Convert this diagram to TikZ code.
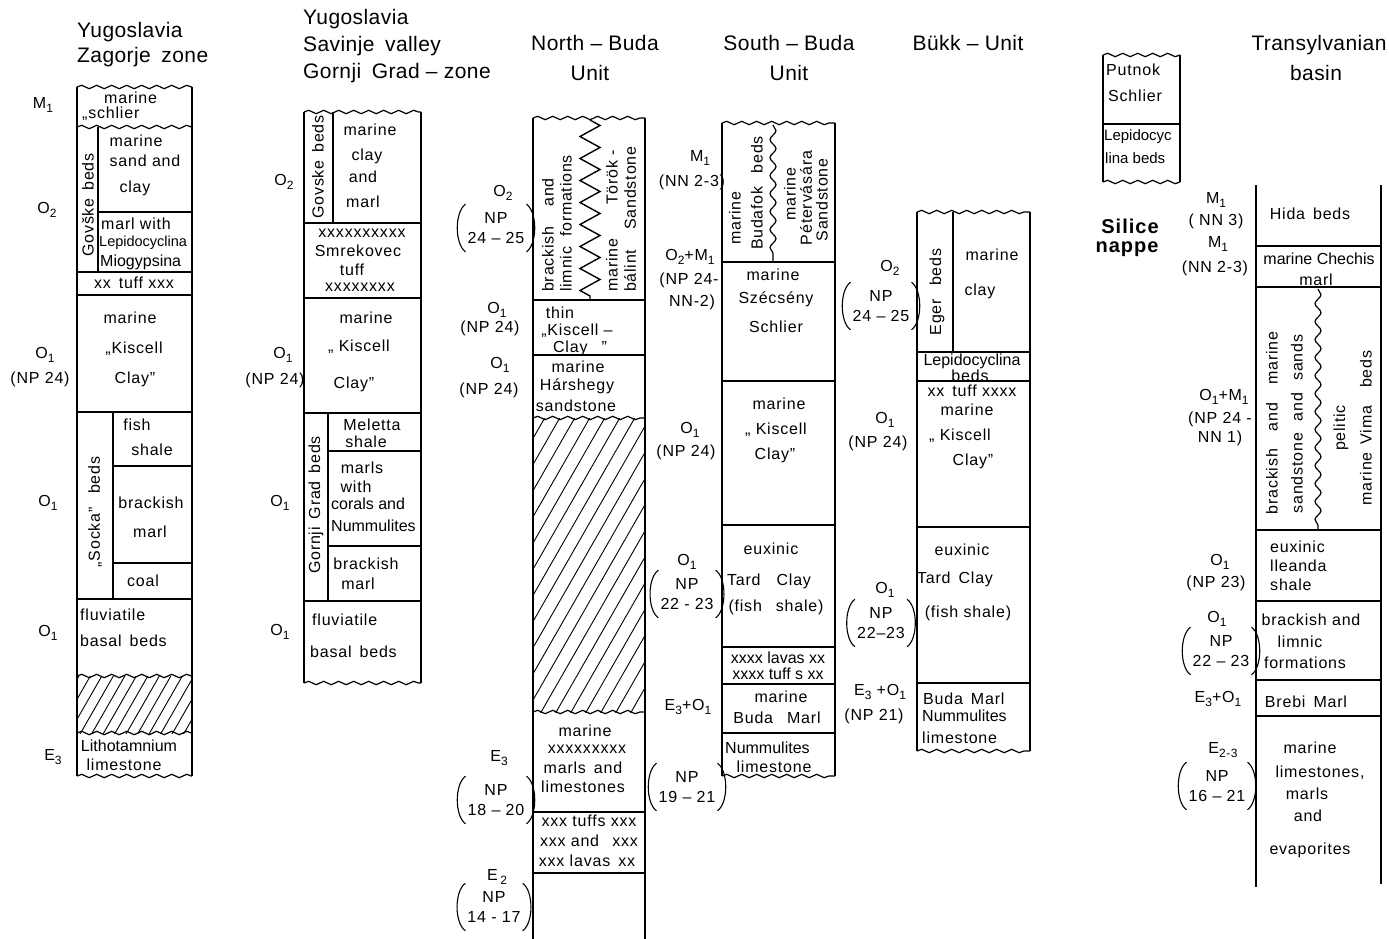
\documentclass[tikz,border=0pt]{standalone}
\usepackage{fontspec}
\setmainfont{Liberation Sans}[LetterSpace=5]
\usetikzlibrary{decorations.pathmorphing,calc}
\newcommand\dn[1]{\raisebox{-4.5pt}{\fontsize{12}{12}\selectfont #1}}
\newcommand\prn[1]{%
 \draw[pl] ($(#1.north west)+(3,-8)$) .. controls ($(#1.west)+(-8,-16)$) and ($(#1.west)+(-8,16)$) .. ($(#1.south west)+(3,8)$);
 \draw[pl] ($(#1.north east)+(-3,-8)$) .. controls ($(#1.east)+(8,-16)$) and ($(#1.east)+(8,16)$) .. ($(#1.south east)+(-3,8)$);}
\begin{document}
\begin{tikzpicture}[x=1pt,y=-1pt,
 box/.style={line width=1.6pt},
 ln/.style={line width=1.2pt},
 pl/.style={line width=1.1pt},
 wv/.style={line width=1.2pt, decorate, decoration={snake, segment length=15pt, amplitude=1.7pt}},
 wvv/.style={line width=1.2pt, decorate, decoration={snake, segment length=18pt, amplitude=3pt}},
 zz/.style={line width=1.4pt, decorate, decoration={zigzag, segment length=22pt, amplitude=10pt}},
 t/.style={inner sep=0pt, font=\fontsize{16}{19}\selectfont},
 tn/.style={inner sep=0pt, font=\fontsize{16}{19}\selectfont\addfontfeature{LetterSpace=0}},
 lb/.style={inner sep=0pt, font=\fontsize{16}{19}\selectfont, align=center},
 np/.style={lb, font=\fontsize{16}{20}\selectfont, inner xsep=5pt},
 ttl/.style={inner sep=0pt, font=\fontsize{21}{24}\selectfont\addfontfeature{LetterSpace=2}},
 rt/.style={t, rotate=90},
 hl/.style={line width=0.9pt}]
\useasboundingbox (0,0) rectangle (1389,939);
\fill[white] (0,0) rectangle (1389,939);

%% ---------------- Column 1 : Zagorje
\node[ttl,anchor=west] (t1a) at (77,32) {Yugoslavia};
\node[ttl,anchor=west] (t1b) at (77,57) {Zagorje\enspace zone};
\draw[box] (77,87) -- (77,776) (192,87) -- (192,776);
\draw[wv] (77,87) -- (192,87);
\draw[wv] (77,127) -- (192,127);
\draw[ln] (98,127) -- (98,272) (98,212) -- (192,212);
\draw[ln] (77,272) -- (192,272) (77,295) -- (192,295) (77,412) -- (192,412);
\draw[ln] (113,412) -- (113,599) (113,466) -- (192,466) (113,563) -- (192,563);
\draw[ln] (77,599) -- (192,599);
\begin{scope}
\clip (77,676) rectangle (192,733);
\foreach \i in {0,...,15} \draw[hl] ({45+\i*11.5},735) -- ++(35,-61);
\end{scope}
\draw[wv] (77,676) -- (192,676);
\draw[wv] (77,733) -- (192,733);
\draw[wv] (77,776) -- (192,776);
\node[t,anchor=west,align=left,font=\fontsize{16}{15}\selectfont] (c1a) at (82,106) {\hspace{22pt}marine\\„schlier};
\node[t] (c1c) at (136,141) {marine};
\node[t] (c1d) at (145,161) {sand and};
\node[t] (c1e) at (135,188) {clay};
\node[rt] (c1f) at (88,205) {Govške\enspace beds};
\node[t,anchor=west] (c1g) at (101,224) {marl with};
\node[tn,anchor=west,font=\fontsize{14.5}{16}\selectfont\addfontfeature{LetterSpace=0}] (c1h) at (99,243) {Lepidocyclina};
\node[tn,anchor=west] (c1i) at (100,262) {Miogypsina};
\node[t] (c1j) at (134,283) {xx\enspace tuff xxx};
\node[t] (c1k) at (130,318) {marine};
\node[t] (c1l) at (134,349) {„Kiscell};
\node[t] (c1m) at (135,379) {Clay"};
\node[rt] (c1n) at (95,512) {„Socka"\enspace\ beds};
\node[t] (c1o) at (137,425) {fish};
\node[t] (c1p) at (152,450) {shale};
\node[t] (c1q) at (151,503) {brackish};
\node[t] (c1r) at (150,532) {marl};
\node[t] (c1s) at (143,581) {coal};
\node[t,anchor=west] (c1t) at (80,615) {fluviatile};
\node[t,anchor=west] (c1u) at (80,641) {basal\enspace beds};
\node[tn] (c1v) at (129,746) {Lithotamnium};
\node[t] (c1w) at (124,765) {limestone};
\node[lb] (l1a) at (43,105) {M\dn1};
\node[lb] (l1b) at (47,210) {O\dn2};
\node[lb] (l1c) at (45,355) {O\dn1};
\node[lb] (l1d) at (40,379) {(NP 24)};
\node[lb] (l1e) at (48,503) {O\dn1};
\node[lb] (l1f) at (48,633) {O\dn1};
\node[lb] (l1g) at (53,757) {E\dn3};

%% ---------------- Column 2 : Savinje
\node[ttl,anchor=west] (t2a) at (303,19) {Yugoslavia};
\node[ttl,anchor=west] (t2b) at (303,46) {Savinje\enspace valley};
\node[ttl,anchor=west] (t2c) at (303,73) {Gornji\enspace Grad – zone};
\draw[box] (304,112) -- (304,683) (421,112) -- (421,683);
\draw[wv] (304,112) -- (421,112);
\draw[ln] (333,112) -- (333,223);
\draw[ln] (304,223) -- (421,223) (304,298) -- (421,298) (304,413) -- (421,413);
\draw[ln] (328,413) -- (328,601) (328,451) -- (421,451) (328,546) -- (421,546);
\draw[ln] (304,601) -- (421,601);
\draw[wv] (304,683) -- (421,683);
\node[rt] (c2a) at (318,167) {Govske\enspace beds};
\node[t] (c2b) at (370,130) {marine};
\node[t] (c2c) at (367,156) {clay};
\node[t] (c2d) at (363,177) {and};
\node[t] (c2e) at (363,202) {marl};
\node[t] (c2f) at (362,233) {xxxxxxxxxx};
\node[t] (c2g) at (358,251) {Smrekovec};
\node[t] (c2h) at (352,270) {tuff};
\node[t] (c2i) at (360,287) {xxxxxxxx};
\node[t] (c2j) at (366,318) {marine};
\node[t] (c2k) at (359,347) {„ Kiscell};
\node[t] (c2l) at (354,384) {Clay"};
\node[rt] (c2m) at (316,505) {Gornji\enspace Grad\enspace beds};
\node[t] (c2n) at (372,425) {Meletta};
\node[t] (c2o) at (366,442) {shale};
\node[t] (c2p) at (362,468) {marls};
\node[t] (c2q) at (356,487) {with};
\node[tn,anchor=west] (c2r) at (331,504) {corals and};
\node[tn,anchor=west] (c2s) at (331,526) {Nummulites};
\node[t] (c2t) at (366,564) {brackish};
\node[t] (c2u) at (358,584) {marl};
\node[t,anchor=west] (c2v) at (312,620) {fluviatile};
\node[t,anchor=west] (c2w) at (310,652) {basal\enspace beds};
\node[lb] (l2a) at (284,182) {O\dn2};
\node[lb] (l2b) at (283,355) {O\dn1};
\node[lb] (l2c) at (275,380) {(NP 24)};
\node[lb] (l2d) at (280,503) {O\dn1};
\node[lb] (l2e) at (280,632) {O\dn1};

%% ---------------- Column 3 : North-Buda
\node[ttl] (t3a) at (595,43) {North – Buda};
\node[ttl] (t3b) at (590,73) {Unit};
\draw[box] (533,118) -- (533,939) (645,118) -- (645,939);
\draw[wv] (533,118) -- (645,118);
\draw[zz] (590,120) -- (590,300);
\draw[ln] (533,300) -- (645,300) (533,355) -- (645,355);
\begin{scope}
\clip (533,418) rectangle (645,712);
\foreach \i in {0,...,24} \draw[hl] ({360+\i*15},714) -- ++(172,-300);
\end{scope}
\draw[wv] (533,418) -- (645,418);
\draw[wv] (533,712) -- (645,712);
\draw[ln] (533,812) -- (645,812) (533,873) -- (645,873);
\node[rt,anchor=west] (c3a) at (548,292) {brackish\hspace{20pt}and};
\node[rt,anchor=west] (c3b) at (566,292) {limnic\hspace{10pt}formations};
\node[rt,anchor=west] (c3c) at (612,292) {marine\hspace{34pt}Török -};
\node[rt,anchor=west] (c3d) at (630,292) {bálint\hspace{20pt}Sandstone};
\node[t] (c3e) at (560,313) {thin};
\node[t] (c3f) at (577,331) {„Kiscell –};
\node[t] (c3g) at (580,348) {Clay\hspace{14pt}"};
\node[t] (c3h) at (578,367) {marine};
\node[t] (c3i) at (577,386) {Hárshegy};
\node[t] (c3j) at (576,406) {sandstone};
\node[t] (c3k) at (585,731) {marine};
\node[t] (c3l) at (587,749) {xxxxxxxxx};
\node[t] (c3m) at (583,768) {marls\enspace and};
\node[t] (c3n) at (583,787) {limestones};
\node[t] (c3o) at (589,821) {xxx tuffs xxx};
\node[t] (c3p) at (589,841) {xxx and\enspace\ xxx};
\node[t] (c3q) at (587,861) {xxx lavas\enspace xx};
\node[lb] (l3a) at (503,193) {O\dn2};
\node[np] (l3b) at (496,228) {NP\\24 – 25};
\prn{l3b}
\node[lb] (l3c) at (497,310) {O\dn1};
\node[lb] (l3d) at (490,328) {(NP 24)};
\node[lb] (l3e) at (500,365) {O\dn1};
\node[lb] (l3f) at (489,390) {(NP 24)};
\node[lb] (l3g) at (499,758) {E\dn3};
\node[np] (l3h) at (496,800) {NP\\18 – 20};
\prn{l3h}
\node[lb] (l3i) at (497,877) {E\,\dn2};
\node[np] (l3j) at (494,907) {NP\\14 - 17};
\prn{l3j}

%% ---------------- Column 4 : South-Buda
\node[ttl] (t4a) at (789,43) {South – Buda};
\node[ttl] (t4b) at (789,73) {Unit};
\draw[box] (722,123) -- (722,776) (835,123) -- (835,776);
\draw[wv] (722,123) -- (835,123);
\draw[wvv] (773,125) -- (773,262);
\draw[ln] (722,262) -- (835,262) (722,381) -- (835,381) (722,525) -- (835,525);
\draw[ln] (722,647) -- (835,647) (722,684) -- (835,684) (722,733) -- (835,733);
\draw[wv] (722,776) -- (835,776);
\node[rt] (c4a) at (735,218) {marine};
\node[rt] (c4b) at (757,193) {Budafok\enspace\ beds};
\node[rt] (c4c) at (790,194) {marine};
\node[rt] (c4d) at (806,198) {Pétervására};
\node[rt] (c4e) at (822,200) {Sandstone};
\node[t] (c4f) at (773,275) {marine};
\node[t] (c4g) at (776,299) {Szécsény};
\node[t] (c4h) at (776,327) {Schlier};
\node[t] (c4i) at (779,404) {marine};
\node[t] (c4j) at (776,430) {„ Kiscell};
\node[t] (c4k) at (775,455) {Clay"};
\node[t] (c4l) at (771,549) {euxinic};
\node[t] (c4m) at (769,581) {Tard\hspace{16pt}Clay};
\node[t] (c4n) at (776,607) {(fish\hspace{14pt}shale)};
\node[tn] (c4o) at (778,658) {xxxx lavas xx};
\node[tn] (c4p) at (778,674) {xxxx tuff s xx};
\node[t] (c4q) at (781,697) {marine};
\node[t] (c4r) at (777,718) {Buda\hspace{14pt}Marl};
\node[tn,anchor=west] (c4s) at (725,748) {Nummulites};
\node[t] (c4t) at (774,767) {limestone};
\node[lb] (l4a) at (700,158) {M\dn1};
\node[lb] (l4b) at (692,182) {(NN 2-3)};
\node[lb] (l4c) at (690,257) {O\dn2+M\dn1};
\node[lb] (l4d) at (689,280) {(NP 24-};
\node[lb] (l4e) at (692,302) {NN-2)};
\node[lb] (l4f) at (690,430) {O\dn1};
\node[lb] (l4g) at (686,452) {(NP 24)};
\node[lb] (l4h) at (687,562) {O\dn1};
\node[np] (l4i) at (687,594) {NP\\22 - 23};
\prn{l4i}
\node[lb] (l4j) at (688,707) {E\dn3+O\dn1};
\node[np] (l4k) at (687,787) {NP\\19 – 21};
\prn{l4k}

%% ---------------- Column 5 : Bukk
\node[ttl] (t5a) at (968,43) {Bükk – Unit};
\draw[box] (917,212) -- (917,751) (1030,212) -- (1030,751);
\draw[wv] (917,212) -- (1030,212);
\draw[ln] (953,212) -- (953,352);
\draw[ln] (917,352) -- (1030,352) (917,381) -- (1030,381) (917,527) -- (1030,527) (917,683) -- (1030,683);
\draw[wv] (917,751) -- (1030,751);
\node[rt] (c5a) at (937,292) {Eger\enspace\ beds};
\node[t] (c5b) at (992,255) {marine};
\node[t] (c5c) at (980,291) {clay};
\node[tn] (c5d) at (972,361) {Lepidocyclina};
\node[t] (c5e) at (970,376) {beds};
\node[t] (c5f) at (972,391) {xx\enspace tuff xxxx};
\node[t] (c5g) at (967,410) {marine};
\node[t] (c5h) at (960,436) {„ Kiscell};
\node[t] (c5i) at (973,461) {Clay"};
\node[t] (c5j) at (962,550) {euxinic};
\node[t] (c5k) at (955,579) {Tard\enspace Clay};
\node[t] (c5l) at (968,613) {(fish shale)};
\node[t,anchor=west] (c5m) at (923,699) {Buda\enspace Marl};
\node[tn,anchor=west] (c5n) at (922,716) {Nummulites};
\node[t,anchor=west] (c5o) at (922,738) {limestone};
\node[lb] (l5a) at (890,268) {O\dn2};
\node[np] (l5b) at (881,306) {NP\\24 – 25};
\prn{l5b}
\node[lb] (l5c) at (885,420) {O\dn1};
\node[lb] (l5d) at (878,443) {(NP 24)};
\node[lb] (l5e) at (885,590) {O\dn1};
\node[np] (l5f) at (881,623) {NP\\22–23};
\prn{l5f}
\node[lb] (l5g) at (880,692) {E\dn3 +O\dn1};
\node[lb] (l5h) at (874,716) {(NP 21)};

%% ---------------- Putnok / Silice
\draw[box] (1103,55) -- (1103,182) (1180,55) -- (1180,182);
\draw[wv] (1103,55) -- (1180,55);
\draw[ln] (1103,124) -- (1180,124);
\draw[wv] (1103,182) -- (1180,182);
\node[t,anchor=west] (c6a) at (1106,70) {Putnok};
\node[t,anchor=west] (c6b) at (1108,96) {Schlier};
\node[tn,anchor=west,font=\fontsize{15}{16}\selectfont\addfontfeature{LetterSpace=0}] (c6c) at (1104,137) {Lepidocyc};
\node[tn,anchor=west,font=\fontsize{15}{16}\selectfont\addfontfeature{LetterSpace=0}] (c6d) at (1105,158) {lina beds};
\node[ttl,font=\fontsize{20}{24}\bfseries] (c6e) at (1130,226) {Silice};
\node[ttl,font=\fontsize{20}{24}\bfseries] (c6f) at (1127,249) {nappe};

%% ---------------- Column 7 : Transylvanian
\node[ttl] (t7a) at (1319,45) {Transylvanian};
\node[ttl] (t7b) at (1316,73) {basin};
\draw[box] (1256,185) -- (1256,887) (1381,185) -- (1381,884);
\draw[ln] (1256,246) -- (1381,246) (1256,287) -- (1381,287);
\draw[wvv] (1318,289) -- (1318,530);
\draw[ln] (1256,530) -- (1381,530) (1256,601) -- (1381,601) (1256,680) -- (1381,680) (1256,716) -- (1381,716);
\node[t] (c7a) at (1310,214) {Hida\enspace beds};
\node[tn] (c7b) at (1319,259) {marine Chechis};
\node[t] (c7c) at (1316,280) {marl};
\node[rt] (c7d) at (1272,423) {brackish\hspace{18pt}and\hspace{18pt}marine};
\node[rt] (c7e) at (1297,424) {sandstone\hspace{12pt}and\hspace{12pt}sands};
\node[rt] (c7f) at (1341,428) {pelitic};
\node[rt] (c7g) at (1366,428) {marine\enspace Vima\hspace{18pt}beds};
\node[t,anchor=west] (c7h) at (1270,547) {euxinic};
\node[t,anchor=west] (c7i) at (1270,566) {lleanda};
\node[t,anchor=west] (c7j) at (1270,585) {shale};
\node[t] (c7k) at (1311,620) {brackish and};
\node[t] (c7l) at (1300,642) {limnic};
\node[t] (c7m) at (1305,663) {formations};
\node[t] (c7n) at (1306,702) {Brebi\enspace Marl};
\node[t] (c7o) at (1310,748) {marine};
\node[t] (c7p) at (1320,773) {limestones,};
\node[t] (c7q) at (1307,794) {marls};
\node[t] (c7r) at (1308,816) {and};
\node[t] (c7s) at (1310,850) {evaporites};
\node[lb] (l7a) at (1216,200) {M\dn1};
\node[lb] (l7b) at (1216,221) {( NN 3)};
\node[lb] (l7c) at (1218,244) {M\dn1};
\node[lb] (l7d) at (1215,268) {(NN 2-3)};
\node[lb] (l7e) at (1224,397) {O\dn1+M\dn1};
\node[lb] (l7f) at (1220,419) {(NP 24 -};
\node[lb] (l7g) at (1220,438) {NN 1)};
\node[lb] (l7h) at (1220,562) {O\dn1};
\node[lb] (l7i) at (1216,583) {(NP 23)};
\node[lb] (l7j) at (1217,619) {O\dn1};
\node[np] (l7k) at (1221,651) {NP\\22 – 23};
\prn{l7k}
\node[lb] (l7l) at (1218,699) {E\dn3+O\dn1};
\node[lb] (l7m) at (1223,750) {E\dn{2-3}};
\node[np] (l7n) at (1217,786) {NP\\16 – 21};
\prn{l7n}
\end{tikzpicture}
\end{document}
